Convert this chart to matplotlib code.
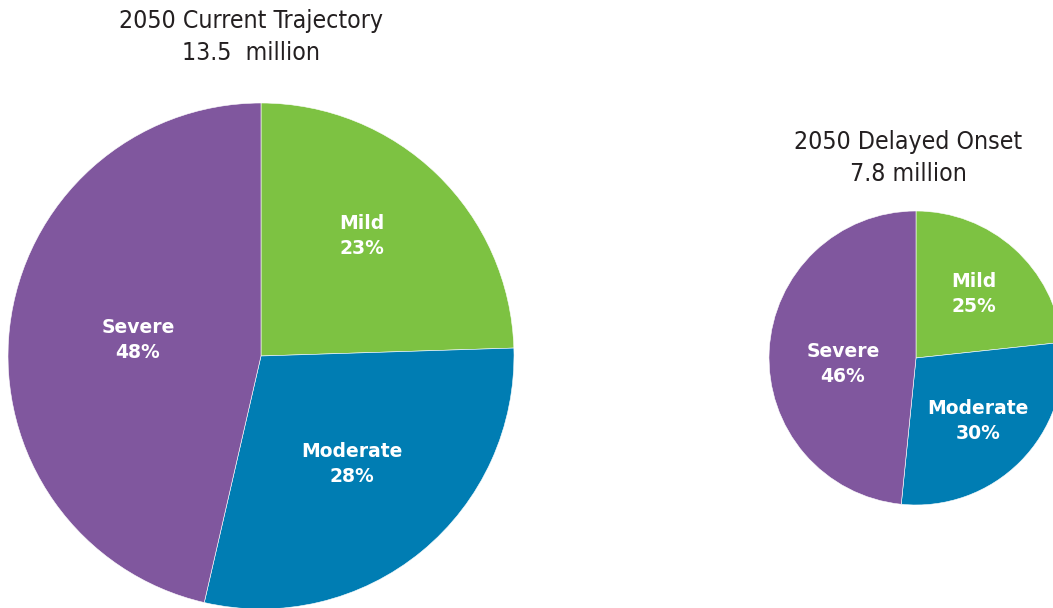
import matplotlib
matplotlib.use('Agg')
import matplotlib.pyplot as plt

# wedge shares (percent of each pie)
categories = ['Mild', 'Moderate', 'Severe']
current_shares = [24.5, 29.1, 46.4]
delayed_shares = [23.3, 28.3, 48.4]
current_labels = ['23%', '28%', '48%']
delayed_labels = ['25%', '30%', '46%']
titles = ['2050 Current Trajectory\n13.5  million', '2050 Delayed Onset\n7.8 million']

colors = ['#7dc242', '#007db3', '#80579e']

W, H = 1053, 608
fig = plt.figure(figsize=(W / 100, H / 100), dpi=100)
ax = fig.add_axes([0, 0, 1, 1])


def draw_pie(shares, pcts, title, center, radius, label_pos, title_xy):
    ax.pie(shares, colors=colors, startangle=90, counterclock=False,
           center=center, radius=radius,
           wedgeprops=dict(edgecolor='white', linewidth=0.4))
    for cat, pct, (lx, ly) in zip(categories, pcts, label_pos):
        ax.text(lx, H - ly, cat + '\n' + pct, ha='center', va='center',
                color='white', fontsize=13.5, fontweight='bold',
                linespacing=1.45)
    ax.text(title_xy[0], H - title_xy[1], title,
            ha='center', va='center', fontsize=17.8, color='#231f20',
            family='DejaVu Sans', fontstretch='condensed', linespacing=1.38)


draw_pie(current_shares, current_labels, titles[0], (261, H - 356), 253,
         [(362, 236), (352, 464), (138, 340)], (251, 37))
draw_pie(delayed_shares, delayed_labels, titles[1], (916, H - 358), 147,
         [(974, 294), (978, 421), (843, 364)], (908, 158))

ax.set_xlim(0, W)
ax.set_ylim(0, H)
ax.set_aspect('equal')
ax.axis('off')

fig.savefig('out.png', dpi=100)
